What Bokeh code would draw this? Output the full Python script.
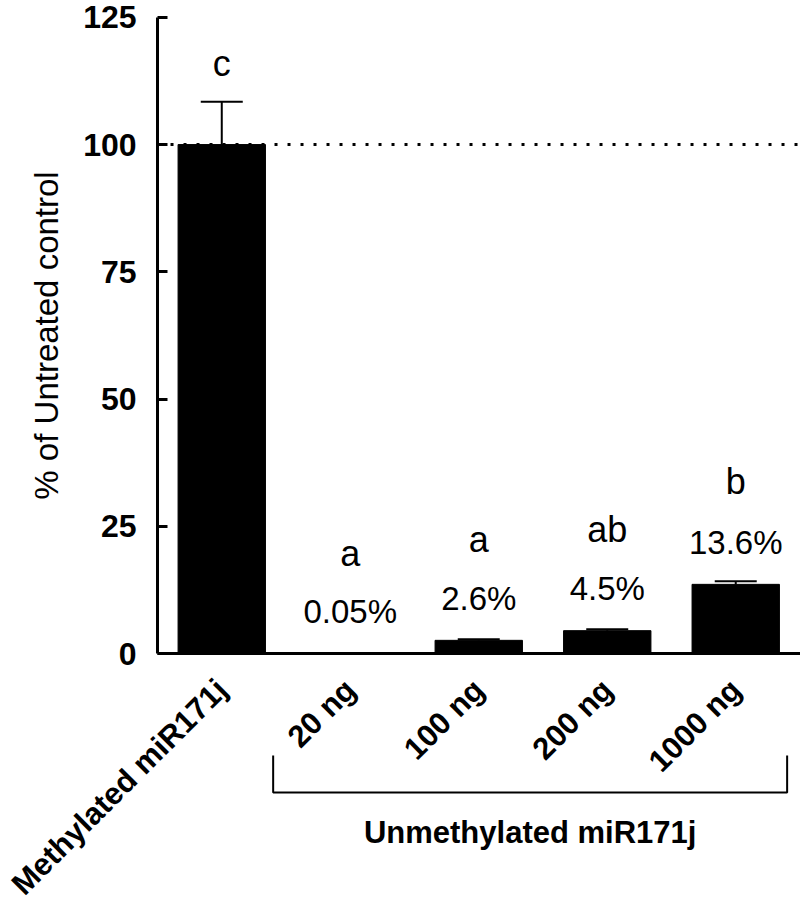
import math
from bokeh.plotting import figure
from bokeh.models import Range1d, FixedTicker, Whisker, TeeHead, ColumnDataSource
from bokeh.core.properties import value
from bokeh.embed import file_html
from bokeh.resources import INLINE

# ---- data ----
categories = ["Methylated miR171j", "20 ng", "100 ng", "200 ng", "1000 ng"]
groups = ["Methylated", "Unmethylated", "Unmethylated", "Unmethylated", "Unmethylated"]
means = [100.0, 0.05, 2.6, 4.5, 13.6]
errors = [8.4, 0.02, 0.2, 0.3, 0.6]
letters = ["c", "a", "a", "ab", "b"]
pct_labels = ["", "0.05%", "2.6%", "4.5%", "13.6%"]
y_ticks = [0, 25, 50, 75, 100, 125]
control_level = 100
group_label = "Unmethylated miR171j"
y_label = "% of Untreated control"

FONT = "Liberation Sans"
positions = list(range(len(categories)))

W, H = 800, 903
X0, X1 = -1.722, 4.504
Y0, Y1 = -49.1, 128.3
axis_x = positions[0] - 0.5

p = figure(width=W, height=H, output_backend="svg", toolbar_location=None,
           x_range=Range1d(X0, X1), y_range=Range1d(Y0, Y1),
           min_border_left=0, min_border_right=0, min_border_top=0,
           min_border_bottom=0)
p.outline_line_color = None
p.xgrid.visible = False
p.ygrid.visible = False
p.background_fill_color = "white"
p.border_fill_color = "white"

# y axis
yax = p.yaxis[0]
yax.fixed_location = axis_x
yax.bounds = (y_ticks[0], y_ticks[-1])
yax.ticker = FixedTicker(ticks=y_ticks)
yax.axis_line_width = 3
yax.major_tick_line_width = 3
yax.major_tick_in = 10
yax.major_tick_out = 0
yax.minor_tick_line_color = None
yax.major_label_text_font = FONT
yax.major_label_text_font_style = "bold"
yax.major_label_text_font_size = "32px"
yax.major_label_text_color = "black"
yax.major_label_standoff = 21
yax.axis_label = y_label
yax.axis_label_text_font = FONT
yax.axis_label_text_font_style = "normal"
yax.axis_label_text_font_size = "33px"
yax.axis_label_text_color = "black"
yax.axis_label_standoff = 15

# x axis
xax = p.xaxis[0]
xax.fixed_location = 0
xax.bounds = (axis_x, X1)
xax.ticker = FixedTicker(ticks=positions)
xax.major_label_overrides = {i: c for i, c in zip(positions, categories)}
xax.major_label_orientation = math.pi / 4
xax.axis_line_width = 3
xax.major_tick_line_color = None
xax.minor_tick_line_color = None
xax.major_label_text_font = FONT
xax.major_label_text_font_style = "bold"
xax.major_label_text_font_size = "31px"
xax.major_label_text_color = "black"
xax.major_label_standoff = 25

# bars
tops = [m + e for m, e in zip(means, errors)]
letter_off = [-100 if pl else -38 for pl in pct_labels]
src = ColumnDataSource(dict(x=positions, top=means, upper=tops, letter=letters,
                            pct=pct_labels, loff=letter_off))
p.vbar(x="x", top="top", bottom=0, width=0.68, source=src,
       fill_color="black", line_color="black")

# control (untreated) reference line
p.line(x=[axis_x, X1], y=[control_level, control_level], line_color="black",
       line_width=3, line_dash="3 10")

# error bars
p.add_layout(Whisker(source=src, base="x", lower="top", upper="upper",
                     line_color="black", line_width=2,
                     upper_head=TeeHead(size=42, line_width=2, line_color="black"),
                     lower_head=None))

# percent labels
p.text(x="x", y="top", text="pct", source=src, text_font=value(FONT),
       text_font_size="33px", text_align="center", text_baseline="alphabetic",
       y_offset=-42, text_color="black")
# significance letters
p.text(x="x", y="upper", text="letter", source=src, text_font=value(FONT),
       text_font_size="36px", text_align="center", text_baseline="alphabetic",
       y_offset="loff", text_color="black")

# group bracket
members = [x for x, g in zip(positions, groups) if g == "Unmethylated"]
bl = min(members) - 0.6
br = max(members) + 0.4
p.line(x=[bl, bl, br, br], y=[-20, -27.3, -27.3, -20], line_color="black",
       line_width=2)
p.text(x=[(bl + br) / 2], y=[-37.1], text=[group_label], text_font=value(FONT),
       text_font_style="bold", text_font_size="31px", text_align="center",
       text_baseline="alphabetic", y_offset=-10, text_color="black")

open("out.html", "w").write(file_html(p, INLINE))
